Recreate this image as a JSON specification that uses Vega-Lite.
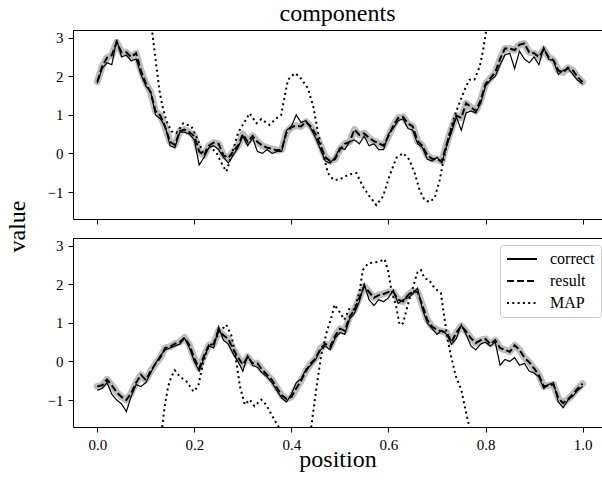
{
  "$schema": "https://vega.github.io/schema/vega-lite/v6.json",
  "padding": {"left": 5, "top": 2, "right": 0, "bottom": 5},
  "bounds": "flush",
  "spacing": 19,
  "config": {
    "view": {"stroke": null},
    "font": "Liberation Serif",
    "axis": {
      "labelFont": "Liberation Serif", "titleFont": "Liberation Serif",
      "labelFontSize": 15, "titleFontSize": 24, "titleFontWeight": "normal",
      "labelColor": "black", "titleColor": "black",
      "domainColor": "black", "tickColor": "black", "domainWidth": 1, "tickWidth": 1,
      "tickSize": 5, "labelPadding": 5, "grid": false
    },
    "legend": {
      "symbolType": "M-3,0H3", "symbolSize": 100, "symbolOffset": 8, "symbolStrokeWidth": 1.8, "symbolStrokeColor": "black", "symbolFillColor": "transparent",
      "labelFont": "Liberation Serif", "labelFontSize": 16, "labelColor": "black", "labelOffset": 20,
      "padding": 6, "rowPadding": 6, "fillColor": "rgba(255,255,255,0.8)", "strokeColor": "#cccccc",
      "cornerRadius": 3, "orient": "none", "legendX": 427, "legendY": 7
    }
  },
  "datasets": {
    "top": [
      {"x":0,"correct":1.82,"result":1.86},{"x":0.01,"correct":2.2,"result":2.25},{"x":0.02,"correct":2.35,"result":2.48},{"x":0.03,"correct":2.3,"result":2.55},{"x":0.04,"correct":2.95,"result":2.88},
      {"x":0.05,"correct":2.5,"result":2.62},{"x":0.06,"correct":2.55,"result":2.62},{"x":0.07,"correct":2.4,"result":2.5},{"x":0.08,"correct":2.45,"result":2.6},{"x":0.09,"correct":2.05,"result":2.15},
      {"x":0.1,"correct":1.75,"result":1.82},{"x":0.11,"correct":1.6,"result":1.58},{"x":0.12,"correct":1.0,"result":1.1},{"x":0.13,"correct":0.9,"result":0.98},{"x":0.14,"correct":0.7,"result":0.68},
      {"x":0.15,"correct":0.2,"result":0.3},{"x":0.16,"correct":0.15,"result":0.22},{"x":0.17,"correct":0.55,"result":0.58},{"x":0.18,"correct":0.55,"result":0.62},{"x":0.19,"correct":0.5,"result":0.55},
      {"x":0.2,"correct":0.35,"result":0.45},{"x":0.21,"correct":-0.3,"result":0.05},{"x":0.22,"correct":-0.1,"result":-0.05},{"x":0.23,"correct":0.15,"result":0.2},{"x":0.24,"correct":0.2,"result":0.28},
      {"x":0.25,"correct":0.1,"result":0.25},{"x":0.26,"correct":-0.1,"result":-0.05},{"x":0.27,"correct":-0.25,"result":-0.12},{"x":0.28,"correct":-0.05,"result":0.05},{"x":0.29,"correct":0.15,"result":0.2},
      {"x":0.3,"correct":0.45,"result":0.5},{"x":0.31,"correct":0.2,"result":0.3},{"x":0.32,"correct":0.4,"result":0.45},{"x":0.33,"correct":0.05,"result":0.3},{"x":0.34,"correct":0.0,"result":0.2},
      {"x":0.35,"correct":0.1,"result":0.15},{"x":0.36,"correct":0.0,"result":0.12},{"x":0.37,"correct":0.05,"result":0.08},{"x":0.38,"correct":0.05,"result":0.1},{"x":0.39,"correct":0.6,"result":0.55},
      {"x":0.4,"correct":0.7,"result":0.68},{"x":0.41,"correct":1.0,"result":0.72},{"x":0.42,"correct":0.8,"result":0.7},{"x":0.43,"correct":0.85,"result":0.82},{"x":0.44,"correct":0.65,"result":0.7},
      {"x":0.45,"correct":0.4,"result":0.5},{"x":0.46,"correct":0.1,"result":0.2},{"x":0.47,"correct":-0.2,"result":-0.1},{"x":0.48,"correct":-0.25,"result":-0.2},{"x":0.49,"correct":-0.1,"result":-0.15},
      {"x":0.5,"correct":0.15,"result":0.1},{"x":0.51,"correct":0.1,"result":0.25},{"x":0.52,"correct":0.3,"result":0.3},{"x":0.53,"correct":0.35,"result":0.62},{"x":0.54,"correct":0.25,"result":0.48},
      {"x":0.55,"correct":0.45,"result":0.52},{"x":0.56,"correct":0.2,"result":0.4},{"x":0.57,"correct":0.25,"result":0.32},{"x":0.58,"correct":0.1,"result":0.26},{"x":0.59,"correct":0.1,"result":0.2},
      {"x":0.6,"correct":0.5,"result":0.45},{"x":0.61,"correct":0.65,"result":0.72},{"x":0.62,"correct":0.85,"result":0.92},{"x":0.63,"correct":0.9,"result":0.95},{"x":0.64,"correct":0.65,"result":0.78},
      {"x":0.65,"correct":0.6,"result":0.7},{"x":0.66,"correct":0.25,"result":0.32},{"x":0.67,"correct":0.15,"result":0.2},{"x":0.68,"correct":-0.15,"result":-0.05},{"x":0.69,"correct":-0.2,"result":-0.14},
      {"x":0.7,"correct":-0.1,"result":-0.15},{"x":0.71,"correct":-0.25,"result":-0.2},{"x":0.72,"correct":0.2,"result":0.25},{"x":0.73,"correct":0.55,"result":0.65},{"x":0.74,"correct":0.95,"result":0.98},
      {"x":0.75,"correct":0.6,"result":0.92},{"x":0.76,"correct":1.05,"result":1.3},{"x":0.77,"correct":1.1,"result":1.2},{"x":0.78,"correct":1.05,"result":1.1},{"x":0.79,"correct":1.3,"result":1.38},
      {"x":0.8,"correct":1.75,"result":1.8},{"x":0.81,"correct":1.9,"result":1.95},{"x":0.82,"correct":2.0,"result":2.1},{"x":0.83,"correct":2.3,"result":2.45},{"x":0.84,"correct":2.55,"result":2.72},
      {"x":0.85,"correct":2.6,"result":2.72},{"x":0.86,"correct":2.2,"result":2.68},{"x":0.87,"correct":2.65,"result":2.82},{"x":0.88,"correct":2.45,"result":2.85},{"x":0.89,"correct":2.35,"result":2.62},
      {"x":0.9,"correct":2.5,"result":2.6},{"x":0.91,"correct":2.3,"result":2.5},{"x":0.92,"correct":2.75,"result":2.7},{"x":0.93,"correct":2.45,"result":2.5},{"x":0.94,"correct":2.4,"result":2.42},
      {"x":0.95,"correct":2.05,"result":2.15},{"x":0.96,"correct":2.15,"result":2.1},{"x":0.97,"correct":2.2,"result":2.22},{"x":0.98,"correct":2.05,"result":2.15},{"x":0.99,"correct":1.9,"result":1.98},
      {"x":1,"correct":1.8,"result":1.85}
    ],
    "bottom": [
      {"x":0,"correct":-0.75,"result":-0.65},{"x":0.01,"correct":-0.7,"result":-0.62},{"x":0.02,"correct":-0.55,"result":-0.47},{"x":0.03,"correct":-0.85,"result":-0.62},{"x":0.04,"correct":-1.0,"result":-0.8},
      {"x":0.05,"correct":-1.1,"result":-0.92},{"x":0.06,"correct":-1.3,"result":-1.0},{"x":0.07,"correct":-0.9,"result":-0.82},{"x":0.08,"correct":-0.6,"result":-0.55},{"x":0.09,"correct":-0.65,"result":-0.35},
      {"x":0.1,"correct":-0.55,"result":-0.48},{"x":0.11,"correct":-0.3,"result":-0.25},{"x":0.12,"correct":-0.05,"result":-0.06},{"x":0.13,"correct":0.15,"result":0.1},{"x":0.14,"correct":0.3,"result":0.35},
      {"x":0.15,"correct":0.35,"result":0.38},{"x":0.16,"correct":0.4,"result":0.46},{"x":0.17,"correct":0.45,"result":0.5},{"x":0.18,"correct":0.6,"result":0.62},{"x":0.19,"correct":0.35,"result":0.42},
      {"x":0.2,"correct":0.0,"result":0.08},{"x":0.21,"correct":-0.25,"result":-0.18},{"x":0.22,"correct":0.1,"result":0.15},{"x":0.23,"correct":0.4,"result":0.42},{"x":0.24,"correct":0.35,"result":0.45},
      {"x":0.25,"correct":0.9,"result":0.8},{"x":0.26,"correct":0.55,"result":0.68},{"x":0.27,"correct":0.45,"result":0.58},{"x":0.28,"correct":0.2,"result":0.32},{"x":0.29,"correct":0.0,"result":0.1},
      {"x":0.3,"correct":-0.25,"result":-0.08},{"x":0.31,"correct":0.15,"result":0.12},{"x":0.32,"correct":-0.1,"result":-0.05},{"x":0.33,"correct":-0.15,"result":-0.05},{"x":0.34,"correct":-0.3,"result":-0.22},
      {"x":0.35,"correct":-0.4,"result":-0.35},{"x":0.36,"correct":-0.55,"result":-0.48},{"x":0.37,"correct":-0.75,"result":-0.68},{"x":0.38,"correct":-0.95,"result":-0.88},{"x":0.39,"correct":-1.05,"result":-0.97},
      {"x":0.4,"correct":-0.85,"result":-0.92},{"x":0.41,"correct":-0.55,"result":-0.7},{"x":0.42,"correct":-0.45,"result":-0.5},{"x":0.43,"correct":-0.2,"result":-0.25},{"x":0.44,"correct":-0.1,"result":-0.05},
      {"x":0.45,"correct":0.05,"result":0.08},{"x":0.46,"correct":0.3,"result":0.34},{"x":0.47,"correct":0.4,"result":0.45},{"x":0.48,"correct":0.3,"result":0.38},{"x":0.49,"correct":0.6,"result":0.66},
      {"x":0.5,"correct":0.75,"result":0.85},{"x":0.51,"correct":0.7,"result":0.8},{"x":0.52,"correct":1.1,"result":1.16},{"x":0.53,"correct":1.25,"result":1.34},{"x":0.54,"correct":1.55,"result":1.65},
      {"x":0.55,"correct":2.0,"result":1.95},{"x":0.56,"correct":1.6,"result":1.8},{"x":0.57,"correct":1.45,"result":1.65},{"x":0.58,"correct":1.6,"result":1.72},{"x":0.59,"correct":1.55,"result":1.75},
      {"x":0.6,"correct":1.65,"result":1.8},{"x":0.61,"correct":1.85,"result":1.8},{"x":0.62,"correct":1.5,"result":1.6},{"x":0.63,"correct":1.6,"result":1.55},{"x":0.64,"correct":1.65,"result":1.72},
      {"x":0.65,"correct":1.75,"result":1.82},{"x":0.66,"correct":1.9,"result":1.8},{"x":0.67,"correct":1.35,"result":1.45},{"x":0.68,"correct":1.0,"result":1.08},{"x":0.69,"correct":0.85,"result":0.9},
      {"x":0.7,"correct":0.7,"result":0.82},{"x":0.71,"correct":0.8,"result":0.78},{"x":0.72,"correct":0.7,"result":0.75},{"x":0.73,"correct":0.45,"result":0.5},{"x":0.74,"correct":0.6,"result":0.75},
      {"x":0.75,"correct":0.95,"result":0.92},{"x":0.76,"correct":0.7,"result":0.78},{"x":0.77,"correct":0.4,"result":0.6},{"x":0.78,"correct":0.3,"result":0.48},{"x":0.79,"correct":0.45,"result":0.55},
      {"x":0.8,"correct":0.5,"result":0.58},{"x":0.81,"correct":0.4,"result":0.45},{"x":0.82,"correct":0.5,"result":0.55},{"x":0.83,"correct":-0.1,"result":0.35},{"x":0.84,"correct":0.05,"result":0.3},
      {"x":0.85,"correct":0.0,"result":0.25},{"x":0.86,"correct":0.1,"result":0.42},{"x":0.87,"correct":-0.1,"result":0.3},{"x":0.88,"correct":-0.05,"result":0.1},{"x":0.89,"correct":-0.25,"result":-0.02},
      {"x":0.9,"correct":-0.3,"result":-0.18},{"x":0.91,"correct":-0.4,"result":-0.35},{"x":0.92,"correct":-0.7,"result":-0.65},{"x":0.93,"correct":-0.6,"result":-0.62},{"x":0.94,"correct":-0.55,"result":-0.6},
      {"x":0.95,"correct":-1.05,"result":-0.95},{"x":0.96,"correct":-1.2,"result":-1.08},{"x":0.97,"correct":-1.0,"result":-0.98},{"x":0.98,"correct":-0.9,"result":-0.85},{"x":0.99,"correct":-0.75,"result":-0.7},
      {"x":1,"correct":-0.65,"result":-0.58}
    ],
    "topMap": [
      {"s":"MAP","x":0,"y":9},{"s":"MAP","x":0.05,"y":6.5},{"s":"MAP","x":0.1,"y":4.2},{"s":"MAP","x":0.113,"y":3.16},{"s":"MAP","x":0.122,"y":2.25},
      {"s":"MAP","x":0.129,"y":1.56},{"s":"MAP","x":0.136,"y":1.13},{"s":"MAP","x":0.143,"y":0.83},{"s":"MAP","x":0.153,"y":0.57},{"s":"MAP","x":0.163,"y":0.53},
      {"s":"MAP","x":0.177,"y":0.78},{"s":"MAP","x":0.194,"y":0.7},{"s":"MAP","x":0.204,"y":0.44},{"s":"MAP","x":0.218,"y":0.01},{"s":"MAP","x":0.232,"y":0.18},
      {"s":"MAP","x":0.246,"y":0.01},{"s":"MAP","x":0.256,"y":-0.25},{"s":"MAP","x":0.266,"y":-0.47},{"s":"MAP","x":0.276,"y":-0.08},{"s":"MAP","x":0.29,"y":0.53},
      {"s":"MAP","x":0.304,"y":0.83},{"s":"MAP","x":0.314,"y":1.04},{"s":"MAP","x":0.328,"y":0.78},{"s":"MAP","x":0.338,"y":0.89},{"s":"MAP","x":0.355,"y":0.74},
      {"s":"MAP","x":0.369,"y":0.91},{"s":"MAP","x":0.379,"y":1.0},{"s":"MAP","x":0.386,"y":1.47},{"s":"MAP","x":0.393,"y":1.91},{"s":"MAP","x":0.407,"y":2.08},
      {"s":"MAP","x":0.417,"y":1.99},{"s":"MAP","x":0.434,"y":1.69},{"s":"MAP","x":0.445,"y":1.22},{"s":"MAP","x":0.455,"y":0.53},{"s":"MAP","x":0.465,"y":0.01},
      {"s":"MAP","x":0.475,"y":-0.5},{"s":"MAP","x":0.486,"y":-0.68},{"s":"MAP","x":0.499,"y":-0.68},{"s":"MAP","x":0.517,"y":-0.55},{"s":"MAP","x":0.534,"y":-0.51},
      {"s":"MAP","x":0.547,"y":-0.85},{"s":"MAP","x":0.561,"y":-1.11},{"s":"MAP","x":0.575,"y":-1.34},{"s":"MAP","x":0.589,"y":-1.11},{"s":"MAP","x":0.602,"y":-0.59},
      {"s":"MAP","x":0.616,"y":-0.12},{"s":"MAP","x":0.63,"y":0.01},{"s":"MAP","x":0.643,"y":-0.16},{"s":"MAP","x":0.654,"y":-0.51},{"s":"MAP","x":0.664,"y":-0.94},
      {"s":"MAP","x":0.674,"y":-1.2},{"s":"MAP","x":0.684,"y":-1.26},{"s":"MAP","x":0.695,"y":-1.16},{"s":"MAP","x":0.705,"y":-0.72},{"s":"MAP","x":0.715,"y":-0.08},
      {"s":"MAP","x":0.726,"y":0.53},{"s":"MAP","x":0.736,"y":0.96},{"s":"MAP","x":0.746,"y":1.3},{"s":"MAP","x":0.757,"y":1.65},{"s":"MAP","x":0.767,"y":1.91},
      {"s":"MAP","x":0.777,"y":1.91},{"s":"MAP","x":0.788,"y":2.25},{"s":"MAP","x":0.795,"y":2.68},{"s":"MAP","x":0.801,"y":3.16},{"s":"MAP","x":0.81,"y":3.9},
      {"s":"MAP","x":0.85,"y":6.5},{"s":"MAP","x":0.9,"y":8.5},{"s":"MAP","x":1,"y":10}
    ],
    "bottomMap": [
      {"s":"MAP","x":0,"y":-5},{"s":"MAP","x":0.05,"y":-4},{"s":"MAP","x":0.1,"y":-2.8},{"s":"MAP","x":0.134,"y":-1.68},{"s":"MAP","x":0.139,"y":-1.16},
      {"s":"MAP","x":0.146,"y":-0.65},{"s":"MAP","x":0.153,"y":-0.39},{"s":"MAP","x":0.16,"y":-0.23},{"s":"MAP","x":0.17,"y":-0.39},{"s":"MAP","x":0.184,"y":-0.52},
      {"s":"MAP","x":0.198,"y":-0.78},{"s":"MAP","x":0.208,"y":-0.65},{"s":"MAP","x":0.218,"y":-0.04},{"s":"MAP","x":0.229,"y":0.39},{"s":"MAP","x":0.239,"y":0.47},
      {"s":"MAP","x":0.253,"y":0.78},{"s":"MAP","x":0.266,"y":0.95},{"s":"MAP","x":0.277,"y":0.65},{"s":"MAP","x":0.287,"y":-0.04},{"s":"MAP","x":0.294,"y":-0.65},
      {"s":"MAP","x":0.304,"y":-1.12},{"s":"MAP","x":0.314,"y":-0.99},{"s":"MAP","x":0.324,"y":-1.16},{"s":"MAP","x":0.338,"y":-0.99},{"s":"MAP","x":0.348,"y":-1.12},
      {"s":"MAP","x":0.359,"y":-1.38},{"s":"MAP","x":0.373,"y":-1.68},{"s":"MAP","x":0.39,"y":-2.2},{"s":"MAP","x":0.42,"y":-2.6},{"s":"MAP","x":0.441,"y":-1.68},
      {"s":"MAP","x":0.451,"y":-0.73},{"s":"MAP","x":0.461,"y":0.13},{"s":"MAP","x":0.472,"y":0.73},{"s":"MAP","x":0.482,"y":1.12},{"s":"MAP","x":0.489,"y":1.47},
      {"s":"MAP","x":0.499,"y":1.29},{"s":"MAP","x":0.509,"y":1.08},{"s":"MAP","x":0.52,"y":1.38},{"s":"MAP","x":0.53,"y":1.34},{"s":"MAP","x":0.541,"y":1.85},
      {"s":"MAP","x":0.547,"y":2.37},{"s":"MAP","x":0.558,"y":2.54},{"s":"MAP","x":0.572,"y":2.57},{"s":"MAP","x":0.582,"y":2.59},{"s":"MAP","x":0.592,"y":2.65},
      {"s":"MAP","x":0.599,"y":2.37},{"s":"MAP","x":0.606,"y":1.85},{"s":"MAP","x":0.616,"y":1.42},{"s":"MAP","x":0.623,"y":0.95},{"s":"MAP","x":0.63,"y":0.99},
      {"s":"MAP","x":0.64,"y":1.47},{"s":"MAP","x":0.65,"y":1.9},{"s":"MAP","x":0.66,"y":2.33},{"s":"MAP","x":0.667,"y":2.37},{"s":"MAP","x":0.674,"y":2.16},
      {"s":"MAP","x":0.684,"y":2.11},{"s":"MAP","x":0.695,"y":1.9},{"s":"MAP","x":0.708,"y":1.77},{"s":"MAP","x":0.715,"y":1.16},{"s":"MAP","x":0.722,"y":0.56},
      {"s":"MAP","x":0.729,"y":0.13},{"s":"MAP","x":0.739,"y":-0.39},{"s":"MAP","x":0.75,"y":-0.73},{"s":"MAP","x":0.757,"y":-1.16},{"s":"MAP","x":0.764,"y":-1.55},
      {"s":"MAP","x":0.767,"y":-1.68},{"s":"MAP","x":0.78,"y":-2.1},{"s":"MAP","x":0.85,"y":-4},{"s":"MAP","x":1,"y":-6}
    ]
  },
  "vconcat": [
    {
      "width": 529, "height": 189,
      "title": {"text": "components", "font": "Liberation Serif", "fontSize": 24, "fontWeight": "normal", "color": "black", "anchor": "middle", "baseline": "alphabetic", "offset": -15},
      "layer": [
        {
          "data": {"name": "top"},
          "transform": [{"fold": ["result"], "as": ["s", "y"]}],
          "mark": {"type": "line", "clip": true, "color": "#bdbdbd", "strokeWidth": 7, "strokeJoin": "round", "strokeCap": "round"},
          "encoding": {
            "x": {"field": "x", "type": "quantitative", "scale": {"domain": [-0.05, 1.04], "nice": false, "zero": false}, "axis": {"orient": "top", "labels": false, "ticks": false, "title": null}},
            "y": {"field": "y", "type": "quantitative", "scale": {"domain": [-1.7, 3.2], "nice": false, "zero": false}, "axis": {"values": [-1, 0, 1, 2, 3], "labelExpr": "replace(datum.label, '-', '−')", "title": null}}
          }
        },
        {
          "data": {"name": "top"},
          "transform": [{"fold": ["correct"], "as": ["s", "y"]}],
          "mark": {"type": "line", "clip": true, "color": "black", "strokeWidth": 1.2},
          "encoding": {
            "x": {"field": "x", "type": "quantitative", "scale": {"domain": [-0.05, 1.04], "nice": false, "zero": false}, "axis": {"orient": "bottom", "values": [0, 0.2, 0.4, 0.6, 0.8, 1], "labels": false, "title": null}},
            "y": {"field": "y", "type": "quantitative", "scale": {"domain": [-1.7, 3.2], "nice": false, "zero": false}, "axis": {"values": [-1, 0, 1, 2, 3], "labelExpr": "replace(datum.label, '-', '−')", "title": null}},
            "strokeDash": {"field": "s", "type": "nominal", "scale": {"domain": ["correct", "result", "MAP"], "range": [[1, 0], [7, 3], [2, 3.3]]}, "legend": null}
          }
        },
        {
          "data": {"name": "top"},
          "transform": [{"fold": ["result"], "as": ["s", "y"]}],
          "mark": {"type": "line", "clip": true, "color": "black", "strokeWidth": 2},
          "encoding": {
            "x": {"field": "x", "type": "quantitative", "scale": {"domain": [-0.05, 1.04], "nice": false, "zero": false}, "axis": null},
            "y": {"field": "y", "type": "quantitative", "scale": {"domain": [-1.7, 3.2], "nice": false, "zero": false}, "axis": {"values": [-1, 0, 1, 2, 3], "labelExpr": "replace(datum.label, '-', '−')", "title": null}},
            "strokeDash": {"field": "s", "type": "nominal", "legend": null}
          }
        },
        {
          "data": {"name": "topMap"},
          "mark": {"type": "line", "clip": true, "color": "black", "strokeWidth": 2},
          "encoding": {
            "x": {"field": "x", "type": "quantitative", "scale": {"domain": [-0.05, 1.04], "nice": false, "zero": false}, "axis": null},
            "y": {"field": "y", "type": "quantitative", "scale": {"domain": [-1.7, 3.2], "nice": false, "zero": false}, "axis": {"values": [-1, 0, 1, 2, 3], "labelExpr": "replace(datum.label, '-', '−')", "title": null}},
            "strokeDash": {"field": "s", "type": "nominal", "legend": null}
          }
        }
      ],
      "resolve": {"axis": {"x": "independent"}}
    },
    {
      "width": 529, "height": 189,
      "layer": [
        {
          "data": {"name": "bottom"},
          "transform": [{"fold": ["result"], "as": ["s", "y"]}],
          "mark": {"type": "line", "clip": true, "color": "#bdbdbd", "strokeWidth": 7, "strokeJoin": "round", "strokeCap": "round"},
          "encoding": {
            "x": {"field": "x", "type": "quantitative", "scale": {"domain": [-0.05, 1.04], "nice": false, "zero": false}, "axis": {"orient": "top", "labels": false, "ticks": false, "title": null}},
            "y": {"field": "y", "type": "quantitative", "scale": {"domain": [-1.7, 3.2], "nice": false, "zero": false}, "axis": {"values": [-1, 0, 1, 2, 3], "labelExpr": "replace(datum.label, '-', '−')", "title": "value", "titleAngle": -90, "titleX": -56, "titleY": -12, "titleAlign": "center", "titleBaseline": "middle"}}
          }
        },
        {
          "data": {"name": "bottom"},
          "transform": [{"fold": ["correct"], "as": ["s", "y"]}],
          "mark": {"type": "line", "clip": true, "color": "black", "strokeWidth": 1.2},
          "encoding": {
            "x": {"field": "x", "type": "quantitative", "scale": {"domain": [-0.05, 1.04], "nice": false, "zero": false}, "axis": {"orient": "bottom", "values": [0, 0.2, 0.4, 0.6, 0.8, 1], "format": ".1f", "title": "position", "titlePadding": -5}},
            "y": {"field": "y", "type": "quantitative", "scale": {"domain": [-1.7, 3.2], "nice": false, "zero": false}, "axis": {"values": [-1, 0, 1, 2, 3], "labelExpr": "replace(datum.label, '-', '−')", "title": "value", "titleAngle": -90, "titleX": -56, "titleY": -12, "titleAlign": "center", "titleBaseline": "middle"}},
            "strokeDash": {"field": "s", "type": "nominal", "title": null, "scale": {"domain": ["correct", "result", "MAP"], "range": [[1, 0], [7, 3], [2, 3.3]]}}
          }
        },
        {
          "data": {"name": "bottom"},
          "transform": [{"fold": ["result"], "as": ["s", "y"]}],
          "mark": {"type": "line", "clip": true, "color": "black", "strokeWidth": 2},
          "encoding": {
            "x": {"field": "x", "type": "quantitative", "scale": {"domain": [-0.05, 1.04], "nice": false, "zero": false}, "axis": null},
            "y": {"field": "y", "type": "quantitative", "scale": {"domain": [-1.7, 3.2], "nice": false, "zero": false}, "axis": {"values": [-1, 0, 1, 2, 3], "labelExpr": "replace(datum.label, '-', '−')", "title": "value", "titleAngle": -90, "titleX": -56, "titleY": -12, "titleAlign": "center", "titleBaseline": "middle"}},
            "strokeDash": {"field": "s", "type": "nominal", "title": null}
          }
        },
        {
          "data": {"name": "bottomMap"},
          "mark": {"type": "line", "clip": true, "color": "black", "strokeWidth": 2},
          "encoding": {
            "x": {"field": "x", "type": "quantitative", "scale": {"domain": [-0.05, 1.04], "nice": false, "zero": false}, "axis": null},
            "y": {"field": "y", "type": "quantitative", "scale": {"domain": [-1.7, 3.2], "nice": false, "zero": false}, "axis": {"values": [-1, 0, 1, 2, 3], "labelExpr": "replace(datum.label, '-', '−')", "title": "value", "titleAngle": -90, "titleX": -56, "titleY": -12, "titleAlign": "center", "titleBaseline": "middle"}},
            "strokeDash": {"field": "s", "type": "nominal", "title": null}
          }
        }
      ],
      "resolve": {"axis": {"x": "independent"}}
    }
  ],
  "resolve": {"scale": {"strokeDash": "independent"}, "legend": {"strokeDash": "independent"}}
}
